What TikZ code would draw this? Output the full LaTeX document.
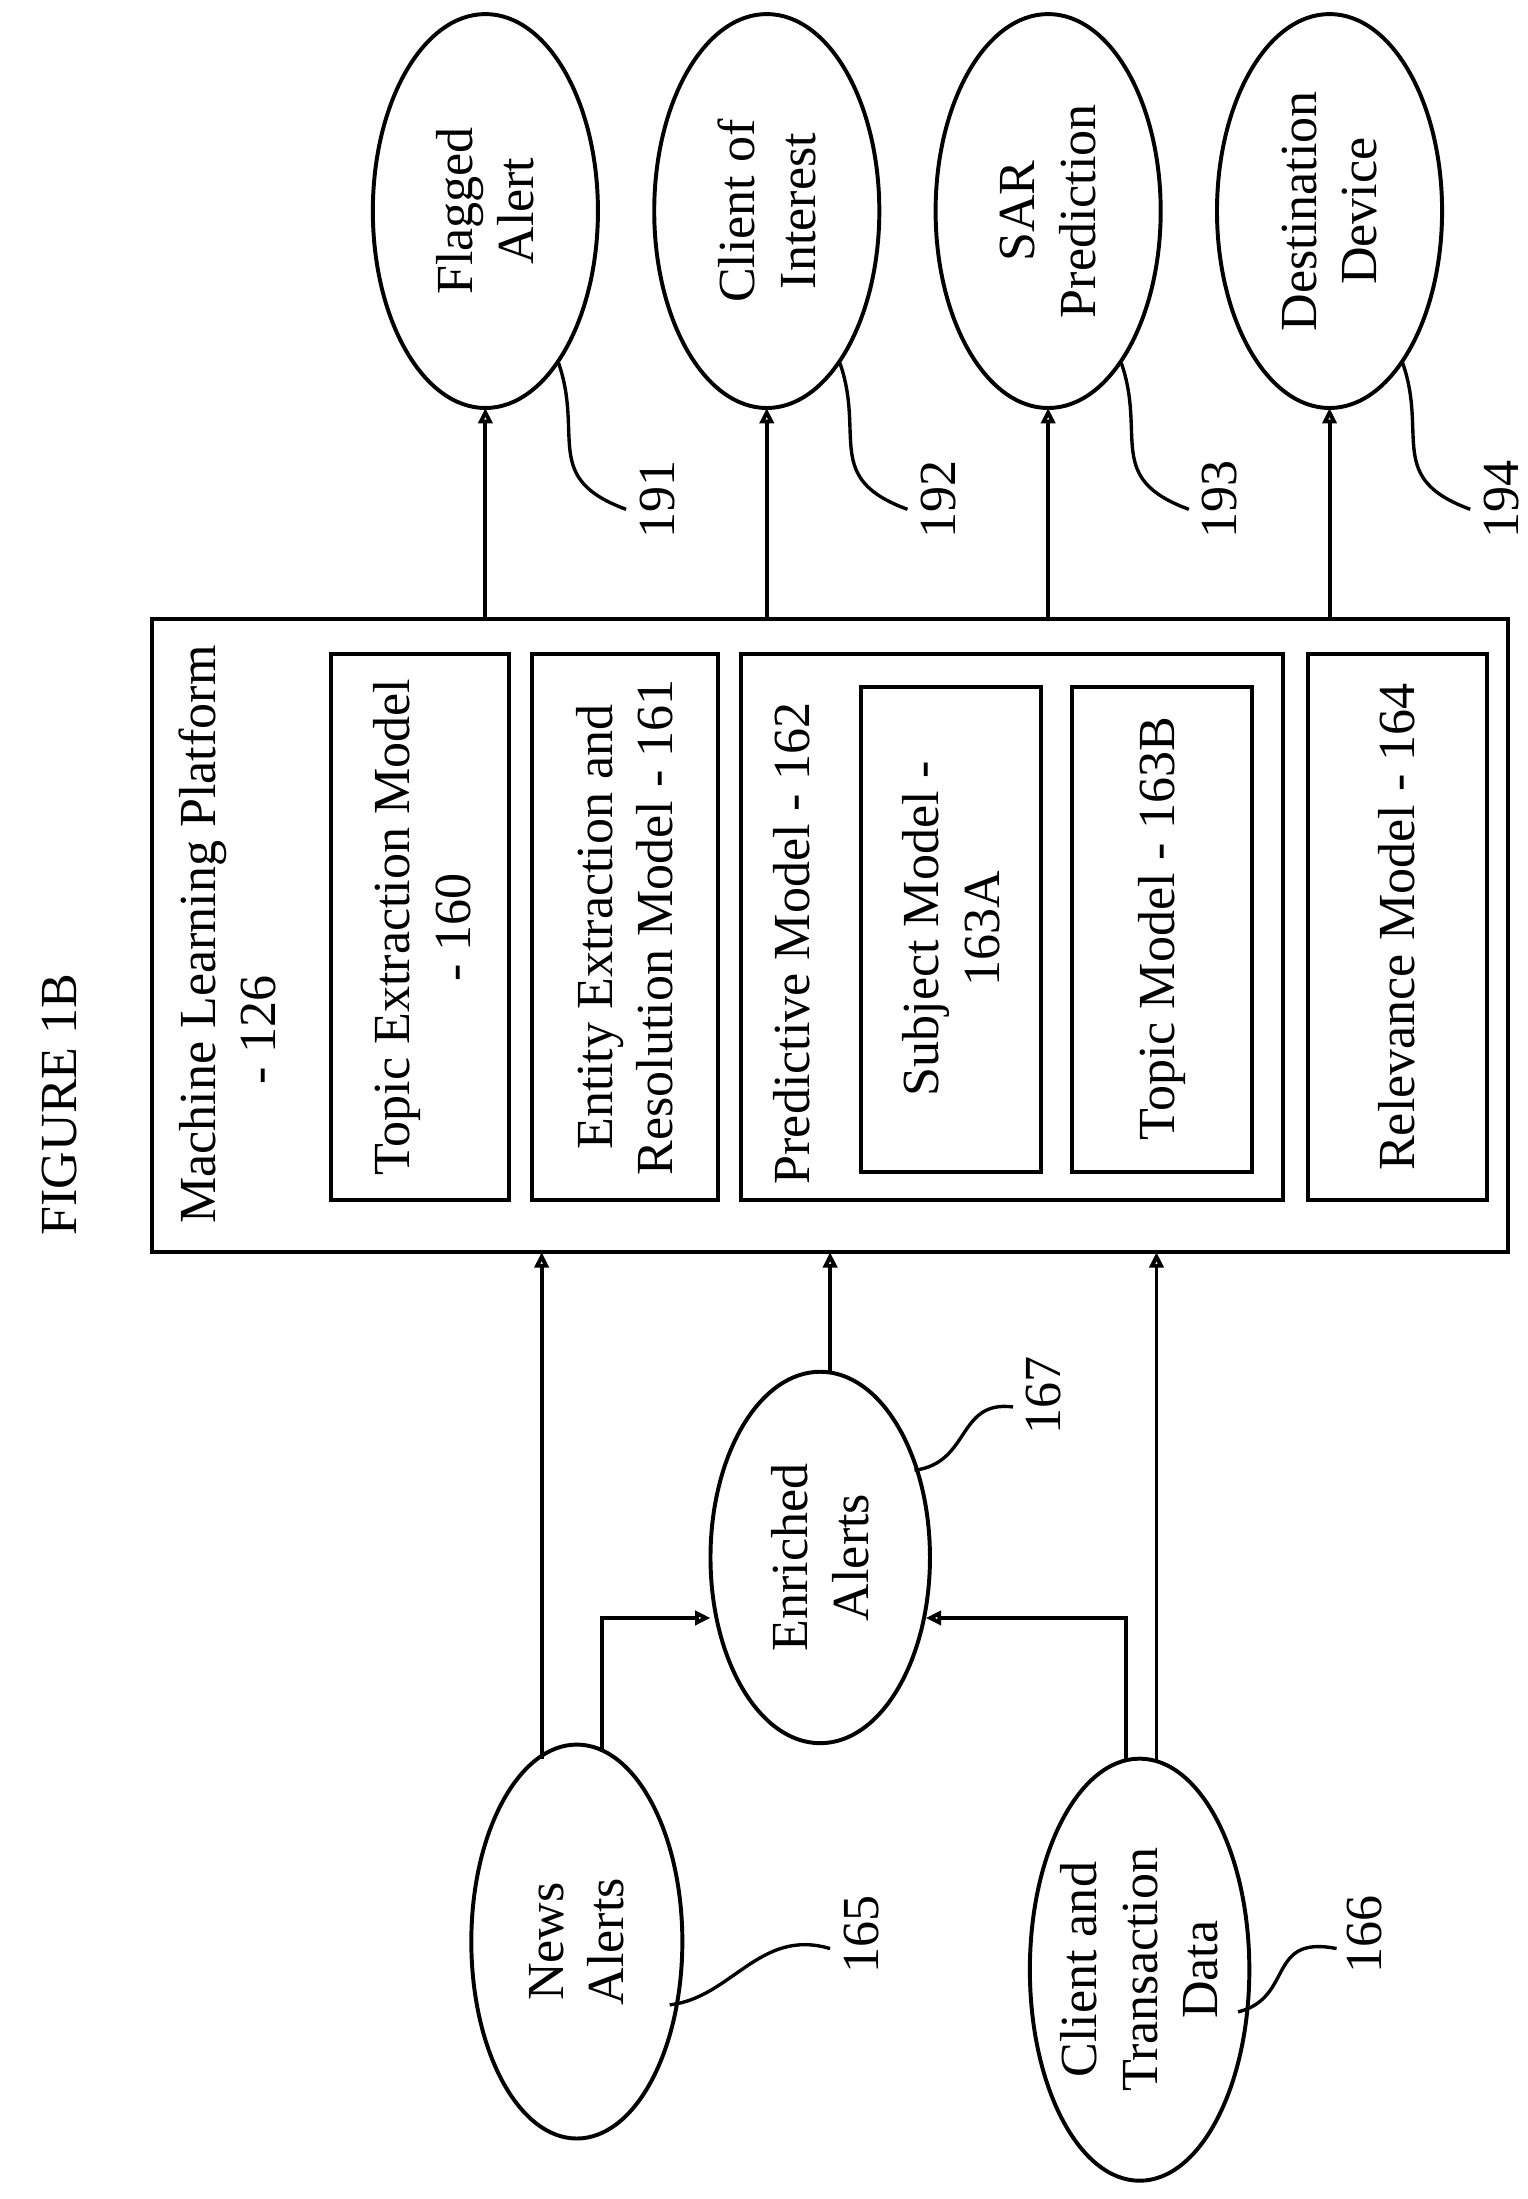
\documentclass[tikz,border=0pt]{standalone}
\usepackage{fontspec}
\setmainfont{Liberation Serif}
\usetikzlibrary{arrows.meta,shapes.geometric}
\begin{document}
\begin{tikzpicture}[x=1pt,y=-1pt,
  every node/.style={font=\fontsize{37}{43}\selectfont},
  txt/.style={rotate=90,align=center,inner sep=0pt},
  bx/.style={draw,line width=2.8pt},
  ell/.style={draw,line width=2.8pt,ellipse},
  ar/.style={line width=2.8pt,-{Triangle[open,length=11pt,width=10pt]}},
  sq/.style={line width=2.4pt}]
\useasboundingbox (0,0) rectangle (1086,1563);
\node[txt] (title) at (42,785) {FIGURE 1B};
% main box
\draw[bx] (108,440) rectangle (1072,890);
\node[txt,anchor=west] (mlp) at (144,870) {Machine Learning Platform};
\node[txt] (mlp2) at (184,732) {- 126};
\draw[bx] (235,465) rectangle (362,853);
\node[txt] (t160) at (300,659) {Topic Extraction Model\\- 160};
\draw[bx] (378,465) rectangle (510,853);
\node[txt] (t161) at (444,659) {Entity Extraction and\\Resolution Model - 161};
\draw[bx] (527,465) rectangle (912,853);
\node[txt,anchor=west] (t162) at (563,842) {Predictive Model - 162};
\draw[bx] (612,488) rectangle (740,833);
\node[txt] (t163a) at (676,660) {Subject Model -\\163A};
\draw[bx] (762,488) rectangle (890,833);
\node[txt] (t163b) at (826,660) {Topic Model - 163B};
\draw[bx] (930,465) rectangle (1057,853);
\node[txt] (t164) at (993,659) {Relevance Model - 164};
% top ellipses
\foreach \n/\x/\t/\l in {e191/345/{Flagged\\Alert}/191, e192/545/{Client of\\Interest}/192, e193/745/{SAR\\Prediction}/193, e194/945/{Destination\\Device}/194}{
  \draw[line width=2.8pt] (\x,150) ellipse (80 and 140);
  \node[txt] (\n) at (\x,150) {\t};
  \coordinate (\n b) at (\x,290);
  \coordinate (\n s) at (\x,440);
  \draw[ar] (\n s) -- (\n b);
  \node[txt] (\n l) at (\x+122,355) {\l};
  \coordinate (\n q) at (\x+52,258);
  \draw[sq] (\n q) .. controls (\x+70,310) and (\x+40,340) .. (\x+100,362);
}
% bottom ellipses
\draw[line width=2.8pt] (410,1380) ellipse (75 and 140);
\node[txt] (news) at (410,1380) {News\\Alerts};
\draw[line width=2.8pt] (810,1400) ellipse (78 and 150);
\node[txt] (cli) at (810,1400) {Client and\\Transaction\\Data};
\draw[line width=2.8pt] (583,1107) ellipse (78 and 132);
\node[txt] (enr) at (583,1107) {Enriched\\Alerts};
\node[txt] (l165) at (612,1375) {165};
\node[txt] (l166) at (970,1375) {166};
\node[txt] (l167) at (742,992) {167};
\draw[sq] (476,1425) .. controls (520,1420) and (540,1370) .. (590,1385);
\draw[sq] (880,1430) .. controls (920,1420) and (900,1375) .. (950,1385);
\draw[sq] (650,1045) .. controls (690,1040) and (680,995) .. (720,1000);
% inputs
\coordinate (n1) at (385,1250); \coordinate (n1t) at (385,890);
\coordinate (n2) at (428,1245); \coordinate (n2c) at (428,1150); \coordinate (n2e) at (505,1150);
\coordinate (et) at (590,975); \coordinate (ett) at (590,890);
\coordinate (c1) at (822,1252); \coordinate (c1t) at (822,890);
\coordinate (c2) at (800,1252); \coordinate (c2c) at (800,1150); \coordinate (c2e) at (658,1150);
\draw[ar] (n1) -- (n1t);
\draw[ar] (n2) -- (n2c) -- (n2e);
\draw[ar] (et) -- (ett);
\draw[ar] (c1) -- (c1t);
\draw[ar] (c2) -- (c2c) -- (c2e);
\end{tikzpicture}
\end{document}
